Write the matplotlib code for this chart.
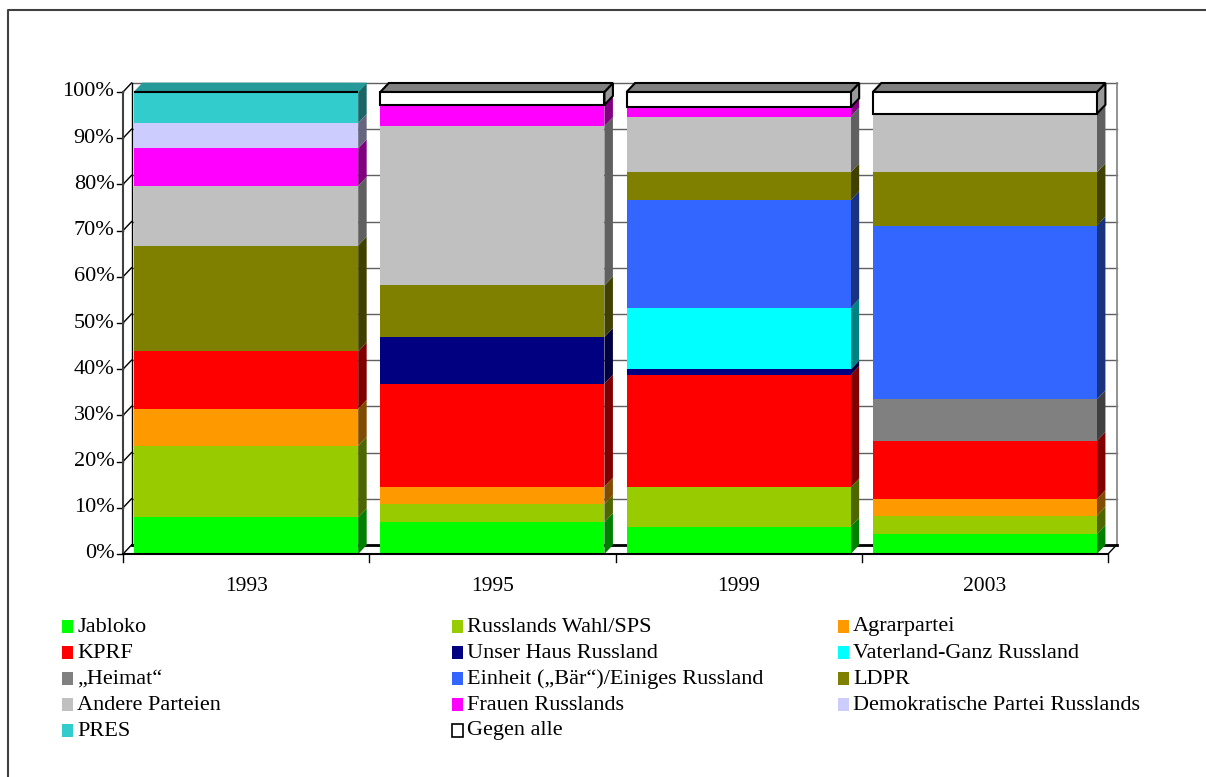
import numpy as np
import matplotlib
matplotlib.use('Agg')
import matplotlib.pyplot as plt
from matplotlib.lines import Line2D
from matplotlib.patches import Rectangle

plt.rcParams['font.family'] = ['Liberation Serif', 'DejaVu Serif']

# Duma election results, share of list vote in percent
years = ['1993', '1995', '1999', '2003']
parties = ['Jabloko', 'Russlands Wahl/SPS', 'Agrarpartei', 'KPRF',
           'Unser Haus Russland', 'Vaterland-Ganz Russland', '\u201eHeimat\u201c',
           'Einheit (\u201eB\u00e4r\u201c)/Einiges Russland', 'LDPR', 'Andere Parteien',
           'Frauen Russlands', 'Demokratische Partei Russlands', 'PRES', 'Gegen alle']
jabloko = [7.9, 6.9, 5.9, 4.3]
wahl_sps = [15.5, 3.9, 8.5, 4.0]
agrar = [8.0, 3.8, 0.0, 3.6]
kprf = [12.4, 22.3, 24.3, 12.6]
ndr = [0.0, 10.1, 1.2, 0.0]
ovr = [0.0, 0.0, 13.3, 0.0]
heimat = [0.0, 0.0, 0.0, 9.0]
einheit = [0.0, 0.0, 23.3, 37.6]
ldpr = [22.9, 11.2, 6.0, 11.5]
andere = [12.9, 34.5, 12.1, 12.7]
frauen = [8.1, 4.6, 2.0, 0.0]
dpr = [5.5, 0.0, 0.0, 0.0]
pres = [6.7, 0.0, 0.0, 0.0]
gegen = [0.0, 2.8, 3.3, 4.7]
colors = ['#00ff00', '#99cc00', '#ff9900', '#ff0000', '#000080', '#00ffff',
          '#808080', '#3366ff', '#808000', '#c0c0c0', '#ff00ff', '#ccccff',
          '#33cccc', '#ffffff']

series = [jabloko, wahl_sps, agrar, kprf, ndr, ovr, heimat, einheit, ldpr,
          andere, frauen, dpr, pres, gegen]
data = np.array(series, dtype=float)
data = data / data.sum(axis=0) * 100.0

W, H = 1206, 777
fig = plt.figure(figsize=(W / 100, H / 100), dpi=100)

# front plane of the plot in pixels
px0, px1 = 123, 1108
py0, py1 = 554, 92
ax = fig.add_axes([px0 / W, 1 - py0 / H, (px1 - px0) / W, (py0 - py1) / H])
ax.set_xlim(0, len(years))
ax.set_ylim(0, 100)
ax.axis('off')

# 3D depth offset in data units
dx = 8.5 * len(years) / (px1 - px0)
dy = 9.0 * 100 / (py0 - py1)
n = len(years)
x = np.arange(n) + 0.5
bw = 0.91

# back wall with gridlines
for v in range(0, 101, 10):
    ax.plot([dx, n + dx], [v + dy, v + dy], color='#606060', lw=1, zorder=1, clip_on=False)
    ax.plot([0, dx], [v, v], color='black', lw=0, zorder=1, clip_on=False)
    ax.plot([0, dx], [v, v + dy], color='black', lw=1, zorder=1, clip_on=False)
    ax.plot([-0.025, 0], [v, v], color='black', lw=1, zorder=5, clip_on=False)
    ax.text(-0.035, v, '%d%%' % v, ha='right', va='center', fontsize=16, clip_on=False)
ax.plot([dx, dx], [dy, 100 + dy], color='black', lw=1, zorder=1, clip_on=False)
ax.plot([n + dx, n + dx], [dy, 100 + dy], color='#808080', lw=1.2, zorder=1, clip_on=False)
ax.plot([0, 0], [0, 100], color='#404040', lw=1.5, zorder=5, clip_on=False)

# floor
ax.plot([dx, n + dx], [dy, dy], color='black', lw=2, zorder=1, clip_on=False)
ax.plot([n, n + dx], [0, dy], color='black', lw=1, zorder=1, clip_on=False)
ax.plot([0, n], [0, 0], color='black', lw=1.5, zorder=5, clip_on=False)
for i in range(n + 1):
    ax.plot([i, i], [0, -1.8], color='black', lw=1, zorder=5, clip_on=False)
for i, yr in enumerate(years):
    ax.text(x[i], -7, yr, ha='center', va='center', fontsize=15.5, clip_on=False)


def shade(c, f):
    r, g, b = matplotlib.colors.to_rgb(c)
    return (r * f, g * f, b * f)


bottom = np.zeros(n)
top_idx = [max(k for k in range(len(series)) if data[k, j] > 0) for j in range(n)]
for k, name in enumerate(parties):
    vals = data[k]
    white = colors[k] == '#ffffff'
    ec = 'black' if white else 'none'
    lw = 1.5 if white else 0
    ax.bar(x, vals, bw, bottom=bottom, color=colors[k], edgecolor=ec,
           linewidth=lw, zorder=3, clip_on=False)
    for j in range(n):
        if vals[j] <= 0:
            continue
        xr = x[j] + bw / 2
        xl = x[j] - bw / 2
        b0 = bottom[j]
        b1 = bottom[j] + vals[j]
        side = '#999999' if white else shade(colors[k], 0.5)
        ax.fill([xr, xr + dx, xr + dx, xr], [b0, b0 + dy, b1 + dy, b1],
                color=side, ec=ec, lw=lw, zorder=2 + k * 0.01, clip_on=False)
        if top_idx[j] == k:
            topc = '#808080' if white else shade(colors[k], 0.75)
            ax.fill([xl, xl + dx, xr + dx, xr], [b1, b1 + dy, b1 + dy, b1],
                    color=topc, ec=ec if white else topc, lw=lw if white else 0.5,
                    zorder=2.5, clip_on=False)
    bottom = bottom + vals

# legend, three columns filled row by row
col_x = [62, 452, 838]
row_y = [627, 653, 679, 705, 731]
for k, name in enumerate(parties):
    cx = col_x[k % 3]
    cy = row_y[k // 3]
    white = colors[k] == '#ffffff'
    fig.patches.append(Rectangle((cx / W, 1 - (cy + 6) / H), 11 / W, 13 / H,
                                 transform=fig.transFigure, facecolor=colors[k],
                                 edgecolor='black' if white else 'none',
                                 linewidth=1.2 if white else 0))
    fig.text((cx + 15) / W, 1 - cy / H, name, ha='left', va='center', fontsize=16)

# chart frame
fig.lines.append(Line2D([8 / W, 8 / W, 1], [0, 1 - 10 / H, 1 - 10 / H],
                        transform=fig.transFigure, color='#404040', lw=1.5))

fig.savefig('out.png', dpi=100)
